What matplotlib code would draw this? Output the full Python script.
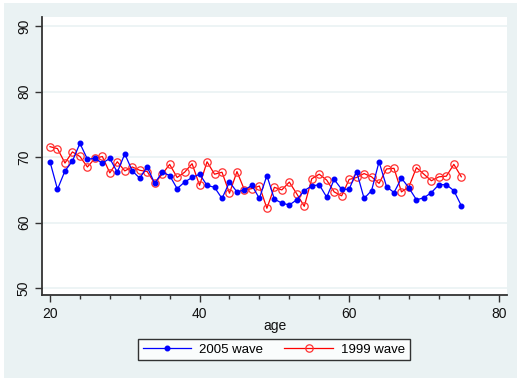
import matplotlib
matplotlib.use("Agg")
import matplotlib.pyplot as plt
from matplotlib.patches import Rectangle

ages = list(range(20, 76))
wave2005 = [69.3, 65.1, 67.9, 69.4, 72.1, 69.7, 69.8, 69.1, 69.8, 67.7,
            70.5, 67.9, 66.8, 68.5, 66.0, 67.7, 67.2, 65.2, 66.2, 66.9,
            67.4, 65.7, 65.4, 63.7, 66.2, 64.7, 65.0, 65.7, 63.7, 67.2,
            63.6, 63.0, 62.7, 63.5, 64.9, 65.6, 65.8, 63.9, 66.6, 65.1,
            65.1, 67.8, 63.7, 64.9, 69.3, 65.5, 64.6, 66.8, 65.3, 63.5,
            63.8, 64.6, 65.8, 65.8, 64.9, 62.6]
wave1999 = [71.6, 71.3, 69.1, 70.8, 70.1, 68.5, 69.8, 70.1, 67.6, 69.3,
            67.9, 68.5, 68.0, 67.8, 66.0, 67.4, 68.9, 66.9, 67.7, 69.0,
            65.7, 69.3, 67.4, 67.7, 64.5, 67.8, 65.0, 65.2, 65.6, 62.2,
            65.4, 65.0, 66.2, 64.4, 62.5, 66.7, 67.4, 66.5, 64.7, 64.1,
            66.6, 66.9, 67.5, 67.0, 66.0, 68.2, 68.3, 64.7, 65.5, 68.4,
            67.4, 66.4, 67.0, 67.1, 68.9, 67.0]
labels = ["2005 wave", "1999 wave"]
x_major = [20, 40, 60, 80]
x_minor = [24, 28, 32, 36, 44, 48, 52, 56, 64, 68, 72, 76]
y_major = [50, 60, 70, 80, 90]

W, H = 517, 378
fig = plt.figure(figsize=(W / 100, H / 100), dpi=100, facecolor="white")
plt.rcParams["font.family"] = ["Liberation Sans", "DejaVu Sans"]
bg = "#EAF2F3"
fig.patches.append(Rectangle((4 / W, 0), 1 - 4 / W, 1 - 3 / H, transform=fig.transFigure,
                             facecolor=bg, edgecolor="none", zorder=-10))

ax = fig.add_axes([42 / W, 1 - 295 / H, (507 - 42) / W, (295 - 17) / H])
ax.set_facecolor("white")
ax.plot(ages, wave2005, color="#0000FF", lw=0.9, marker="o", ms=3.3, mfc="#0000FF",
        mec="#0000FF", label=labels[0], zorder=3)
ax.plot(ages, wave1999, color="#FF0000", lw=0.9, marker="o", ms=5.3, mfc="none",
        mec="#FF3030", mew=0.9, label=labels[1], zorder=2)

ax.set_xlim(18.93, 81.11)
ax.set_ylim(48.98, 91.37)
ax.set_xticks(x_major)
ax.set_xticks(x_minor, minor=True)
ax.set_yticks(y_major)
ax.grid(axis="y", color=bg, lw=1.2, zorder=0)
ax.set_axisbelow(True)
for s in ["top", "right"]:
    ax.spines[s].set_visible(False)
for s in ["left", "bottom"]:
    ax.spines[s].set_color("#333333")
    ax.spines[s].set_linewidth(1.3)
ax.tick_params(axis="both", which="major", direction="out", length=5, width=1,
               color="#333333", labelsize=10, labelcolor="#111111")
ax.tick_params(axis="x", which="minor", direction="out", length=3, width=1, color="#333333")
ax.tick_params(axis="x", which="major", pad=4)
ax.tick_params(axis="y", which="major", pad=3)
for lab in ax.get_yticklabels():
    lab.set_rotation(90)
    lab.set_va("center")
ax.set_xlabel("age", fontsize=10, labelpad=-2, color="#111111")

handles, lbls = ax.get_legend_handles_labels()
leg = fig.legend(handles, lbls, loc="center", bbox_to_anchor=(274 / W, 1 - 349.5 / H),
                 ncol=2, frameon=True, fontsize=9.5, handlelength=3.7, columnspacing=1.6,
                 handletextpad=0.6, borderpad=0.35, fancybox=False, edgecolor="black",
                 facecolor="white", numpoints=1)
leg.get_frame().set_linewidth(1.0)

fig.savefig("out.png", dpi=100, facecolor=fig.get_facecolor())
